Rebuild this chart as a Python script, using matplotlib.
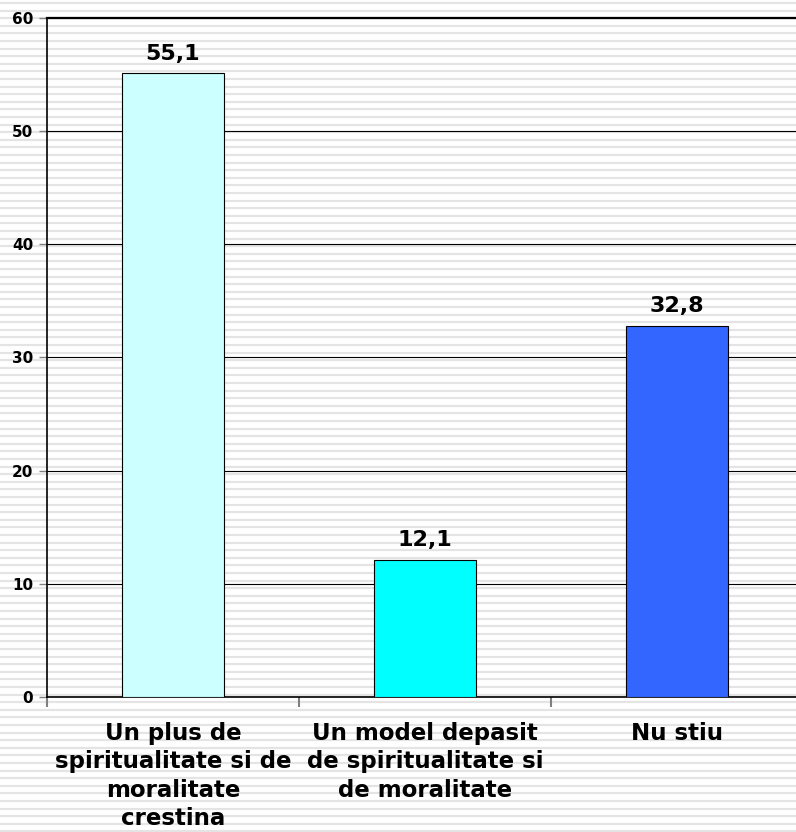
import numpy as np
import matplotlib
matplotlib.use('Agg')
import matplotlib.pyplot as plt

categories = ["Un plus de\nspiritualitate si de\nmoralitate\ncrestina",
              "Un model depasit\nde spiritualitate si\nde moralitate",
              "Nu stiu"]
values = [55.1, 12.1, 32.8]
value_labels = ["55,1", "12,1", "32,8"]
colors = ['#CCFFFF', '#00FFFF', '#3366FF']
yticks = [0, 10, 20, 30, 40, 50, 60]

W, H = 796, 832
fig = plt.figure(figsize=(W / 100, H / 100), dpi=100)
fig.patch.set_facecolor('white')

# striped background over the whole figure
bg = fig.add_axes([0, 0, 1, 1], zorder=-1)
bg.set_xlim(0, W)
bg.set_ylim(H, 0)
bg.axis('off')
for y in np.arange(3, H, 7.6):
    bg.axhline(y, color='#e4e4e4', lw=1.6)

left, right, top, bottom = 47, 796, 18, 697
ax = fig.add_axes([left / W, (H - bottom) / H, (right - left) / W, (bottom - top) / H])
ax.patch.set_alpha(0)

cat_w = 252.0
x = np.arange(len(values))
ax.bar(x, values, width=102 / cat_w, color=colors, edgecolor='black', linewidth=0.8, zorder=3)
ax.set_xlim(-0.5, -0.5 + (right - left) / cat_w)
ax.set_ylim(0, 60)

for xi, v, lab in zip(x, values, value_labels):
    ax.annotate(lab, (xi, v), xytext=(0, 7), textcoords='offset points',
                ha='center', va='bottom', fontsize=16, fontweight='bold')

ax.set_yticks(yticks)
ax.set_yticklabels([str(t) for t in yticks], fontsize=11, fontweight='bold')
ax.yaxis.grid(True, color='black', lw=0.8, zorder=1)
ax.set_axisbelow(True)
ax.tick_params(axis='y', length=6, width=1, color='#808080', pad=4)

ax.set_xticks([-0.5, 0.5, 1.5])
ax.set_xticklabels([])
ax.tick_params(axis='x', which='major', length=7, width=1.5, color='#808080')
ax.set_xticks(x, minor=True)
ax.set_xticklabels(categories, minor=True, fontsize=16.5, fontweight='bold', linespacing=1.3)
ax.tick_params(axis='x', which='minor', length=0, pad=18)

ax.spines['right'].set_visible(False)
ax.spines['top'].set_linewidth(1.6)
ax.spines['left'].set_linewidth(1.2)
ax.spines['bottom'].set_linewidth(1.2)

fig.savefig('out.png', dpi=100)
